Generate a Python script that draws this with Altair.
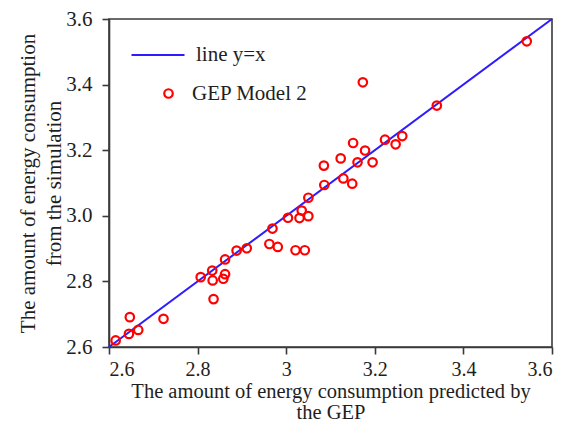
import altair as alt
import pandas as pd

# Values
pred = [3.543, 3.173, 3.340, 3.151, 3.223, 3.247, 3.262, 3.178, 3.161, 3.195,
        3.123, 3.085, 3.129, 3.149, 3.086, 3.050, 3.035, 3.004, 3.030, 3.050,
        2.969, 2.962, 2.981, 3.021, 3.042, 2.911, 2.888, 2.862, 2.833, 2.807,
        2.834, 2.862, 2.858, 2.836, 2.647, 2.723, 2.666, 2.645, 2.615]
sim = [3.532, 3.407, 3.336, 3.222, 3.232, 3.218, 3.243, 3.199, 3.163, 3.163,
       3.175, 3.153, 3.114, 3.098, 3.094, 3.055, 3.016, 2.994, 2.993, 2.999,
       2.961, 2.914, 2.905, 2.895, 2.895, 2.901, 2.894, 2.867, 2.833, 2.813,
       2.803, 2.822, 2.808, 2.746, 2.691, 2.686, 2.652, 2.640, 2.620]
line_ends = [2.6, 3.6]
tick_values = [2.6, 2.8, 3.0, 3.2, 3.4, 3.6]
line_label = "line y=x"
model_label = "GEP Model 2"
x_title = ["The amount of energy consumption predicted by", "the GEP"]
y_title = ["The amount of energy consumption", "from the simulation"]

pts = pd.DataFrame({"pred": pred, "sim": sim, "model": model_label})
ln = pd.DataFrame({"pred": line_ends, "sim": line_ends, "line": line_label})

FONT = "Liberation Serif"
AX = "#3a3a3a"
TXT = "#1e1e1e"
FS = 21

xs = alt.Scale(domain=[2.6, 3.6], nice=False, zero=False)
ys = alt.Scale(domain=[2.6, 3.6], nice=False, zero=False)

x_axis = alt.Axis(values=tick_values, format="~g", title=x_title, grid=False,
                  tickSize=7, labelPadding=5, titlePadding=2, titleLineHeight=21,
                  labelFontSize=20, titleFontSize=20.5)
y_axis = alt.Axis(values=tick_values, format=".1f", title=y_title, grid=False,
                  tickSize=7, labelPadding=10, titlePadding=1, titleLineHeight=26)

line = alt.Chart(ln).mark_line(strokeWidth=2).encode(
    x=alt.X("pred:Q", scale=xs, axis=x_axis),
    y=alt.Y("sim:Q", scale=ys, axis=y_axis),
    stroke=alt.Stroke("line:N",
                      scale=alt.Scale(domain=[line_label], range=["#2d1cff"]),
                      legend=alt.Legend(title=None, orient="none", legendX=21, legendY=8,
                                        symbolType="stroke", symbolSize=2809,
                                        symbolStrokeWidth=2.2, labelOffset=10, padding=0)),
)

points = alt.Chart(pts).mark_point(filled=False, size=72, strokeWidth=2.2, opacity=1).encode(
    x=alt.X("pred:Q", scale=xs),
    y=alt.Y("sim:Q", scale=ys),
    color=alt.Color("model:N",
                    scale=alt.Scale(domain=[model_label], range=["#ff0000"]),
                    legend=alt.Legend(title=None, orient="none", legendX=49, legendY=64,
                                      symbolType="circle", symbolSize=72,
                                      symbolStrokeWidth=2.2, labelOffset=13, padding=0)),
)

chart = alt.layer(line, points).resolve_legend(color="independent", stroke="independent").properties(
    width=443, height=328,
    background="white",
    autosize=alt.AutoSizeParams(type="none"),
    padding={"left": 101, "top": 11, "right": 6, "bottom": 80},
).configure_view(
    stroke=AX, strokeWidth=1.6
).configure_axis(
    domainColor=AX, domainWidth=1.6, tickColor=AX, tickWidth=1.6,
    labelFont=FONT, labelFontSize=FS, labelColor=TXT,
    titleFont=FONT, titleFontSize=FS, titleColor=TXT, titleFontWeight="normal",
).configure_legend(
    labelFont=FONT, labelFontSize=FS, labelColor=TXT,
)

chart.save("out.html", embed_options={"renderer": "svg", "actions": False})
